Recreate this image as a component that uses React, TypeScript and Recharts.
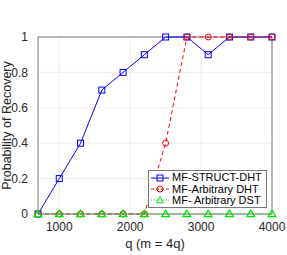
import React from "react";
import { LineChart, Line, XAxis, YAxis, CartesianGrid, ReferenceLine } from "recharts";

const qValues = [700, 1000, 1300, 1600, 1900, 2200, 2500, 2800, 3100, 3400, 3700, 4000];
const structDht = [0, 0.2, 0.4, 0.7, 0.8, 0.9, 1, 1, 0.9, 1, 1, 1];
const arbitraryDht = [0, 0, 0, 0, 0, 0, 0.4, 1, 1, 1, 1, 1];
const arbitraryDst = [0, 0, 0, 0, 0, 0, 0, 0, 0, 0, 0, 0];
const xTicks = [1000, 2000, 3000, 4000];
const yTicks = [0, 0.2, 0.4, 0.6, 0.8, 1];

const seriesNames = ["MF-STRUCT-DHT", "MF-Arbitrary DHT", "MF- Arbitrary DST"];

const data = qValues.map((q, i) => ({
  q,
  s: structDht[i],
  a: arbitraryDht[i],
  d: arbitraryDst[i],
}));

const FONT = "'Liberation Sans', Arial, Helvetica, sans-serif";

const Square = (props: any) => {
  const { cx, cy } = props;
  if (cx == null || cy == null) return null;
  return <rect x={cx - 3} y={cy - 3} width={6} height={6} fill="none" stroke="#0000ff" strokeWidth={1} />;
};
const Circle = (props: any) => {
  const { cx, cy } = props;
  if (cx == null || cy == null) return null;
  return <circle cx={cx} cy={cy} r={3} fill="none" stroke="#ff0000" strokeWidth={1} />;
};
const Tri = (props: any) => {
  const { cx, cy } = props;
  if (cx == null || cy == null) return null;
  return (
    <polygon
      points={`${cx},${cy - 3.8} ${cx - 3.8},${cy + 2.6} ${cx + 3.8},${cy + 2.6}`}
      fill="none"
      stroke="#00e600"
      strokeWidth={1.3}
    />
  );
};

const YTitle = () => (
  <svg width={16} height={255} style={{ position: "absolute", left: 0, top: 0, pointerEvents: "none" }}>
    <text
      x={0}
      y={0}
      transform="translate(11, 125.5) rotate(-90)"
      textAnchor="middle"
      fill="#262626"
      fontSize={12.5}
      fontFamily={FONT}
    >
      Probability of Recovery
    </text>
  </svg>
);

const LegendBox = () => {
  const rows = [
    { name: seriesNames[0], color: "#0000ff", dash: undefined, marker: "sq" },
    { name: seriesNames[1], color: "#ff0000", dash: "3 2", marker: "ci" },
    { name: seriesNames[2], color: "#00e600", dash: "1 1.5", marker: "tr" },
  ];
  return (
    <div
      style={{
        position: "absolute",
        left: 148,
        top: 170,
        width: 119,
        height: 38,
        background: "#fff",
        border: "1px solid #7a7a7a",
        boxSizing: "border-box",
        fontFamily: FONT,
        fontSize: 11,
        color: "#000",
        lineHeight: "11px",
        paddingTop: 1,
      }}
    >
      {rows.map((r) => (
        <div key={r.name} style={{ display: "flex", alignItems: "center", height: 11.4 }}>
          <svg width={20} height={10} style={{ marginLeft: 1, marginRight: 2, flex: "none" }}>
            <line x1={1} y1={5} x2={19} y2={5} stroke={r.color} strokeWidth={1} strokeDasharray={r.dash} />
            {r.marker === "sq" && <rect x={7} y={2} width={6} height={6} fill="none" stroke={r.color} />}
            {r.marker === "ci" && <circle cx={10} cy={5} r={3} fill="none" stroke={r.color} />}
            {r.marker === "tr" && <polygon points="10,1.5 6.5,7.8 13.5,7.8" fill="none" stroke={r.color} />}
          </svg>
          <span style={{ whiteSpace: "nowrap" }}>{r.name}</span>
        </div>
      ))}
    </div>
  );
};

export default function App() {
  return (
    <div style={{ position: "absolute", left: 0, top: 0, width: 287, height: 255, background: "#fff" }}>
      <LineChart width={287} height={255} data={data} margin={{ top: 37, right: 15, left: 0, bottom: 0 }}>
        <CartesianGrid stroke="#ececec" strokeWidth={1} horizontalValues={yTicks} verticalValues={xTicks} />
        <XAxis
          dataKey="q"
          type="number"
          domain={[700, 4000]}
          ticks={xTicks}
          height={41}
          stroke="#7a7a7a"
          tickLine={false}
          tick={{ fill: "#262626", fontSize: 12, fontFamily: FONT }}
          tickMargin={2}
          label={{ value: "q (m = 4q)", position: "insideBottom", offset: 7, fill: "#262626", fontSize: 13, fontFamily: FONT }}
        />
        <YAxis
          type="number"
          domain={[0, 1]}
          ticks={yTicks}
          width={38}
          stroke="#7a7a7a"
          tickLine={false}
          tickFormatter={(v: number) => String(v)}
          tick={{ fill: "#262626", fontSize: 12, fontFamily: FONT }}
          tickMargin={4}
        />
        <ReferenceLine y={1} stroke="#7a7a7a" />
        <ReferenceLine x={4000} stroke="#7a7a7a" />
        <Line
          dataKey="s"
          name={seriesNames[0]}
          stroke="#0000ff"
          strokeWidth={1}
          dot={<Square />}
          isAnimationActive={false}
        />
        <Line
          dataKey="a"
          name={seriesNames[1]}
          stroke="#ff0000"
          strokeWidth={1}
          strokeDasharray="4 3"
          dot={<Circle />}
          isAnimationActive={false}
        />
        <Line
          dataKey="d"
          name={seriesNames[2]}
          stroke="#00e600"
          strokeWidth={1.2}
          strokeDasharray="1 1.5"
          dot={<Tri />}
          isAnimationActive={false}
        />
      </LineChart>
      <YTitle />
      <LegendBox />
    </div>
  );
}
